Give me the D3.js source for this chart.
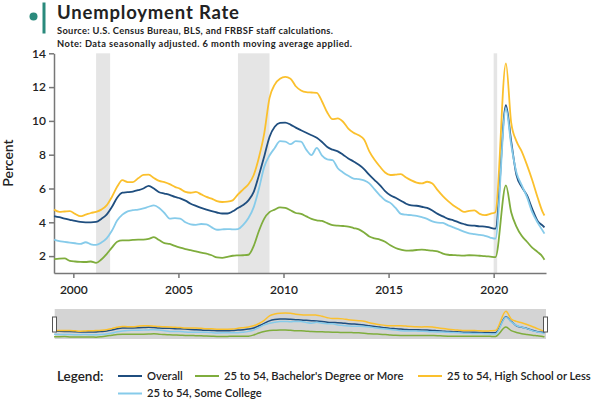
<!DOCTYPE html>
<html>
<head>
<meta charset="utf-8">
<script src="https://cdn.jsdelivr.net/npm/d3@7"></script>
<style>
  html, body { margin: 0; padding: 0; background: #fff; }
  svg { display: block; font-family: Lato, "Open Sans", sans-serif; }
</style>
</head>
<body>
<svg id="chart" width="600" height="400"></svg>
<script>
// ---------- DATA ----------
const months = [
  "1999-02","1999-05","1999-08","1999-11",
  "2000-02","2000-05","2000-08","2000-11",
  "2001-02","2001-05","2001-08","2001-11",
  "2002-02","2002-05","2002-08","2002-11",
  "2003-02","2003-05","2003-08","2003-11",
  "2004-02","2004-05","2004-08","2004-11",
  "2005-02","2005-05","2005-08","2005-11",
  "2006-02","2006-05","2006-08","2006-11",
  "2007-02","2007-05","2007-08","2007-11",
  "2008-02","2008-05","2008-08","2008-11",
  "2009-02","2009-05","2009-08","2009-11",
  "2010-02","2010-05","2010-08","2010-11",
  "2011-02","2011-05","2011-08","2011-11",
  "2012-02","2012-05","2012-08","2012-11",
  "2013-02","2013-05","2013-08","2013-11",
  "2014-02","2014-05","2014-08","2014-11",
  "2015-02","2015-05","2015-08","2015-11",
  "2016-02","2016-05","2016-08","2016-11",
  "2017-02","2017-05","2017-08","2017-11",
  "2018-02","2018-05","2018-08","2018-11",
  "2019-02","2019-05","2019-08","2019-11",
  "2020-02","2020-08","2020-11",
  "2021-02","2021-05","2021-08","2021-11",
  "2022-02","2022-05","2022-06"
];

const overall = [
  4.37,4.30,4.22,4.15,
  4.08,4.02,4.00,4.00,
  4.02,4.20,4.45,4.90,
  5.45,5.75,5.78,5.82,
  5.90,6.00,6.15,6.00,
  5.78,5.70,5.62,5.50,
  5.42,5.28,5.10,4.97,
  4.85,4.75,4.66,4.58,
  4.52,4.52,4.65,4.85,
  5.02,5.30,5.80,6.80,
  7.90,9.05,9.65,9.88,
  9.90,9.78,9.60,9.45,
  9.30,9.15,9.00,8.75,
  8.45,8.30,8.20,8.00,
  7.78,7.60,7.40,7.15,
  6.80,6.50,6.20,5.85,
  5.60,5.45,5.28,5.10,
  5.00,4.98,4.92,4.85,
  4.70,4.50,4.35,4.20,
  4.12,4.00,3.90,3.82,
  3.80,3.76,3.75,3.68,
  3.62,10.93,8.80,
  6.80,6.10,5.60,4.80,
  4.10,3.80,3.70
];

const bachelors = [
  1.82,1.85,1.86,1.72,
  1.68,1.66,1.65,1.68,
  1.60,1.80,2.12,2.50,
  2.85,2.93,2.93,2.96,
  2.98,2.98,3.02,3.12,
  2.95,2.77,2.72,2.60,
  2.50,2.42,2.35,2.28,
  2.20,2.15,2.05,1.92,
  1.90,1.95,2.02,2.04,
  2.05,2.08,2.60,3.50,
  4.22,4.60,4.75,4.88,
  4.85,4.71,4.55,4.50,
  4.35,4.20,4.12,4.08,
  3.95,3.84,3.80,3.78,
  3.75,3.66,3.58,3.40,
  3.16,3.05,2.98,2.85,
  2.64,2.48,2.38,2.32,
  2.33,2.36,2.38,2.35,
  2.32,2.28,2.15,2.08,
  2.06,2.04,2.03,2.05,
  2.04,2.02,2.00,1.97,
  1.94,6.19,4.60,
  3.75,3.20,2.85,2.50,
  2.25,1.95,1.78
];

const highSchool = [
  4.75,4.62,4.64,4.66,
  4.50,4.36,4.45,4.55,
  4.62,4.75,5.00,5.50,
  6.10,6.49,6.38,6.38,
  6.60,6.80,6.82,6.62,
  6.45,6.38,6.26,6.10,
  5.98,5.80,5.75,5.80,
  5.65,5.50,5.40,5.25,
  5.20,5.22,5.30,5.65,
  5.95,6.25,6.80,7.85,
  9.26,11.35,12.15,12.50,
  12.60,12.50,12.05,11.80,
  11.70,11.68,11.66,11.15,
  10.50,10.10,10.15,9.95,
  9.55,9.30,9.15,8.90,
  8.20,7.70,7.30,6.95,
  6.80,6.82,6.85,6.65,
  6.48,6.35,6.30,6.40,
  6.30,5.90,5.55,5.25,
  5.00,4.80,4.62,4.68,
  4.70,4.50,4.42,4.50,
  4.60,13.40,9.90,
  8.80,8.20,7.40,6.50,
  5.50,4.60,4.40
];

const someCollege = [
  2.97,2.88,2.84,2.80,
  2.76,2.72,2.82,2.70,
  2.66,2.80,3.05,3.50,
  4.10,4.45,4.65,4.72,
  4.75,4.82,4.92,5.00,
  4.85,4.55,4.22,4.25,
  4.22,4.00,3.88,3.85,
  3.90,3.88,3.70,3.56,
  3.58,3.60,3.58,3.60,
  3.85,4.25,4.90,6.00,
  7.28,7.95,8.40,8.80,
  8.78,8.62,8.80,8.78,
  8.30,7.98,8.40,7.95,
  7.72,7.68,7.20,6.95,
  6.75,6.59,6.55,6.48,
  6.30,5.95,5.60,5.30,
  5.15,4.85,4.50,4.45,
  4.42,4.38,4.30,4.20,
  4.05,3.98,3.96,3.82,
  3.70,3.58,3.45,3.35,
  3.30,3.25,3.20,3.10,
  3.03,10.74,8.60,
  6.95,6.20,5.50,4.60,
  4.00,3.50,3.33
];

const seriesNames = [
  "Overall",
  "25 to 54, Bachelor's Degree or More",
  "25 to 54, High School or Less",
  "25 to 54, Some College"
];
const seriesColors = ["#1f4e7f", "#7fad3d", "#fbc02d", "#86cbea"];
const recessions = [["2001-02","2001-10"],["2007-11","2009-05"],["2020-01","2020-03"]];
const yTicks = [2,4,6,8,10,12,14];
const xTicks = [2000,2005,2010,2015,2020];

// ---------- SETUP ----------
const toYear = s => { const [y,m] = s.split("-").map(Number); return y + (m-1)/12; };
const years = months.map(toYear);
const allSeries = [overall, bachelors, highSchool, someCollege];

const svg = d3.select("#chart");
const x = d3.scaleLinear().domain([1999.08, 2022.49]).range([54, 546]);
const y = d3.scaleLinear().domain([1, 14]).range([273, 53.3]);

// Header
svg.append("circle").attr("cx", 33.5).attr("cy", 16.5).attr("r", 4).attr("fill", "#2a8a7c");
svg.append("rect").attr("x", 42.5).attr("y", 2.5).attr("width", 3).attr("height", 31).attr("fill", "#2a8a7c");
svg.append("text").attr("x", 57).attr("y", 19).attr("font-size", 18.5).attr("font-weight", 700)
  .attr("fill", "#222").attr("textLength", 182).attr("lengthAdjust", "spacing")
  .text("Unemployment Rate");
svg.append("text").attr("x", 57).attr("y", 34).attr("font-size", 9.3).attr("font-weight", 700)
  .attr("fill", "#222").attr("textLength", 276).attr("lengthAdjust", "spacing")
  .text("Source: U.S. Census Bureau, BLS, and FRBSF staff calculations.");
svg.append("text").attr("x", 57).attr("y", 47).attr("font-size", 9.3).attr("font-weight", 700)
  .attr("fill", "#222").attr("textLength", 295).attr("lengthAdjust", "spacing")
  .text("Note: Data seasonally adjusted. 6 month moving average applied.");

// Recession bands
svg.append("g").selectAll("rect").data(recessions).join("rect")
  .attr("x", d => x(toYear(d[0])))
  .attr("width", d => x(toYear(d[1])) - x(toYear(d[0])))
  .attr("y", y(14))
  .attr("height", y(1) - y(14))
  .attr("fill", "#e5e5e5");

// Axes
const yAxis = svg.append("g").attr("transform", "translate(54,0)")
  .call(d3.axisLeft(y).tickValues(yTicks).tickSize(5).tickSizeOuter(0));
const xAxis = svg.append("g").attr("transform", `translate(0,${y(1)})`)
  .call(d3.axisBottom(x).tickValues(xTicks).tickFormat(d3.format("d")).tickSize(5).tickSizeOuter(0));
[yAxis, xAxis].forEach(g => {
  g.selectAll("path, line").attr("stroke", "#777").attr("stroke-width", 1.5);
  g.selectAll("text").attr("font-size", 12).attr("font-weight", 600).attr("fill", "#222")
    .attr("font-family", "Lato, sans-serif");
});
xAxis.selectAll("text").attr("dy", "1.05em");

svg.append("text").attr("transform", "translate(13,163) rotate(-90)")
  .attr("text-anchor", "middle").attr("font-size", 14).attr("font-weight", 600)
  .attr("fill", "#222").text("Percent");

// Lines
const line = d3.line().x((d,i) => x(years[i])).y(d => y(d)).curve(d3.curveMonotoneX);
svg.append("g").selectAll("path").data(allSeries).join("path")
  .attr("d", d => line(d))
  .attr("fill", "none")
  .attr("stroke", (d,i) => seriesColors[i])
  .attr("stroke-width", 1.8)
  .attr("stroke-linejoin", "round");

// Navigator
const y2 = d3.scaleLinear().domain([1, 14]).range([338.5, 310]);
svg.append("rect").attr("x", 54.7).attr("y", 309).attr("width", 546 - 54.7).attr("height", 30)
  .attr("fill", "#d4d4d4");
const line2 = d3.line().x((d,i) => x(years[i])).y(d => y2(d)).curve(d3.curveMonotoneX);
svg.append("g").selectAll("path").data(allSeries).join("path")
  .attr("d", d => line2(d))
  .attr("fill", "none")
  .attr("stroke", (d,i) => seriesColors[i])
  .attr("stroke-width", 1.5);
[52.5, 543.5].forEach(hx => {
  svg.append("rect").attr("x", hx).attr("y", 317).attr("width", 4).attr("height", 15)
    .attr("fill", "#fff").attr("stroke", "#555").attr("stroke-width", 1);
});

// Legend
svg.append("text").attr("x", 57).attr("y", 380.5).attr("font-size", 13.5).attr("font-weight", 600)
  .attr("fill", "#222").text("Legend:");
const legendPos = [[118, 376], [195, 376], [418, 376], [118, 393.5]];
const lg = svg.append("g").selectAll("g").data(seriesNames).join("g")
  .attr("transform", (d,i) => `translate(${legendPos[i][0]},${legendPos[i][1]})`);
lg.append("line").attr("x1", 0).attr("x2", 24).attr("y1", 0).attr("y2", 0)
  .attr("stroke", (d,i) => seriesColors[i]).attr("stroke-width", 2);
lg.append("text").attr("x", 29).attr("y", 3.9).attr("font-size", 11.2).attr("font-weight", 600)
  .attr("fill", "#222").text(d => d);
</script>
</body>
</html>
